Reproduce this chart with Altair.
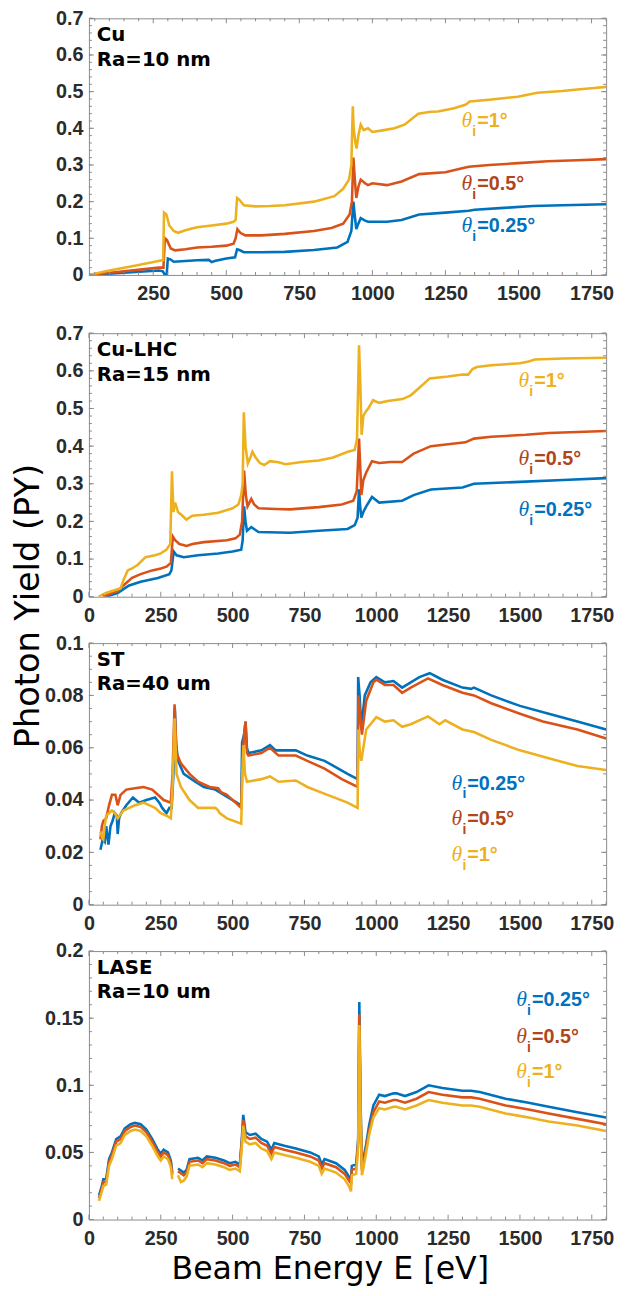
import altair as alt
import pandas as pd

SERIES = ["0.25°", "0.5°", "1°"]
LINE_COLORS = ["#0072BD", "#D95319", "#EDB120"]
LABEL_COLORS = ["#0072BD", "#B0461C", "#EDB120"]
LABEL_TEXT = ["=0.25°", "=0.5°", "=1°"]
FRAME = "#8a8a8a"

# ---------------- Panel 1: Cu, Ra=10 nm ----------------
CU_025 = [(30, 0), (150, 0.006), (270, 0.012), (283, 0.01), (290, 0.0), (296, 0.0), (300, 0.045), (310, 0.042),
          (320, 0.036), (360, 0.038), (400, 0.04), (440, 0.041), (450, 0.035), (460, 0.038), (500, 0.045),
          (530, 0.048), (537, 0.07), (545, 0.068), (560, 0.062), (620, 0.062), (700, 0.063), (800, 0.068),
          (880, 0.075), (915, 0.09), (928, 0.12), (935, 0.2), (940, 0.16), (945, 0.125), (952, 0.14),
          (960, 0.155), (975, 0.148), (985, 0.145), (1050, 0.145), (1100, 0.15), (1160, 0.165), (1250, 0.17),
          (1330, 0.175), (1350, 0.178), (1450, 0.183), (1550, 0.188), (1650, 0.19), (1800, 0.193)]
CU_05 = [(30, 0), (150, 0.01), (270, 0.02), (285, 0.02), (290, 0.10), (297, 0.095), (310, 0.072), (325, 0.067),
         (360, 0.07), (400, 0.075), (450, 0.077), (500, 0.08), (525, 0.085), (532, 0.1), (538, 0.125),
         (548, 0.115), (565, 0.108), (620, 0.108), (700, 0.112), (800, 0.12), (860, 0.128), (900, 0.14),
         (922, 0.165), (930, 0.2), (935, 0.32), (940, 0.26), (945, 0.21), (952, 0.24), (960, 0.26),
         (975, 0.25), (985, 0.245), (1000, 0.25), (1050, 0.245), (1100, 0.255), (1160, 0.275), (1250, 0.28),
         (1300, 0.29), (1330, 0.295), (1400, 0.30), (1500, 0.305), (1600, 0.31), (1700, 0.313), (1800, 0.316)]
CU_1 = [(30, 0.0), (100, 0.012), (200, 0.027), (280, 0.04), (284, 0.04), (287, 0.17), (295, 0.165), (305, 0.135),
        (320, 0.12), (335, 0.115), (360, 0.122), (400, 0.13), (450, 0.135), (500, 0.14), (525, 0.145),
        (532, 0.15), (537, 0.21), (545, 0.205), (560, 0.19), (600, 0.187), (650, 0.188), (700, 0.19),
        (800, 0.2), (870, 0.215), (900, 0.235), (920, 0.26), (928, 0.3), (933, 0.46), (936, 0.4),
        (942, 0.36), (946, 0.345), (952, 0.38), (960, 0.41), (970, 0.395), (985, 0.40), (1000, 0.39),
        (1040, 0.395), (1075, 0.40), (1110, 0.41), (1157, 0.44), (1200, 0.445), (1224, 0.446), (1280, 0.455),
        (1320, 0.465), (1333, 0.473), (1400, 0.478), (1497, 0.486), (1565, 0.497), (1650, 0.502),
        (1701, 0.506), (1760, 0.51), (1800, 0.513)]
CU_LABEL_E = 1305
CU_LABEL_V = [0.116, 0.232, 0.404]

# ---------------- Panel 2: Cu-LHC, Ra=15 nm ----------------
LHC_025 = [(60, 0), (80, 0.005), (100, 0.01), (120, 0.02), (140, 0.03), (180, 0.04), (240, 0.05), (280, 0.06),
           (287, 0.07), (295, 0.12), (305, 0.11), (330, 0.105), (380, 0.11), (450, 0.115), (500, 0.12),
           (530, 0.125), (535, 0.15), (540, 0.24), (545, 0.2), (550, 0.175), (565, 0.185), (590, 0.172),
           (700, 0.17), (800, 0.175), (900, 0.18), (925, 0.19), (935, 0.21), (940, 0.285), (944, 0.24),
           (948, 0.21), (955, 0.225), (965, 0.24), (985, 0.265), (1010, 0.25), (1090, 0.255), (1130, 0.27),
           (1190, 0.285), (1300, 0.29), (1340, 0.3), (1500, 0.305), (1650, 0.31), (1800, 0.315)]
LHC_05 = [(50, 0), (80, 0.01), (100, 0.015), (120, 0.03), (150, 0.05), (180, 0.06), (220, 0.07), (250, 0.075),
          (270, 0.08), (285, 0.09), (292, 0.16), (300, 0.15), (315, 0.14), (340, 0.135), (360, 0.14),
          (400, 0.145), (480, 0.15), (510, 0.155), (525, 0.165), (533, 0.2), (540, 0.335), (546, 0.27),
          (552, 0.24), (565, 0.26), (575, 0.245), (590, 0.235), (650, 0.233), (700, 0.232), (800, 0.238),
          (880, 0.245), (920, 0.255), (932, 0.28), (940, 0.42), (944, 0.35), (948, 0.27), (955, 0.31),
          (965, 0.33), (985, 0.36), (1010, 0.355), (1050, 0.358), (1090, 0.358), (1130, 0.38), (1190, 0.4),
          (1250, 0.405), (1310, 0.41), (1340, 0.42), (1400, 0.425), (1520, 0.43), (1600, 0.435), (1800, 0.44)]
LHC_1 = [(34, 0), (60, 0.01), (80, 0.015), (100, 0.02), (110, 0.022), (120, 0.044), (135, 0.07), (150, 0.075),
         (170, 0.085), (197, 0.105), (230, 0.11), (250, 0.115), (270, 0.125), (283, 0.14), (289, 0.333),
         (294, 0.225), (300, 0.25), (310, 0.225), (325, 0.215), (339, 0.205), (360, 0.215), (400, 0.218),
         (450, 0.223), (500, 0.235), (520, 0.245), (530, 0.27), (535, 0.3), (539, 0.49), (545, 0.4),
         (553, 0.354), (562, 0.37), (569, 0.385), (580, 0.37), (595, 0.355), (610, 0.35), (630, 0.36),
         (660, 0.357), (684, 0.352), (740, 0.358), (800, 0.362), (850, 0.37), (901, 0.385), (925, 0.39),
         (933, 0.42), (940, 0.668), (945, 0.55), (949, 0.43), (955, 0.48), (962, 0.49), (972, 0.5),
         (989, 0.522), (1010, 0.515), (1040, 0.52), (1091, 0.525), (1120, 0.535), (1150, 0.555),
         (1186, 0.58), (1250, 0.585), (1300, 0.59), (1320, 0.59), (1335, 0.605), (1350, 0.61), (1400, 0.615),
         (1500, 0.62), (1530, 0.625), (1552, 0.63), (1650, 0.633), (1800, 0.635)]
LHC_LABEL_E = 1495
LHC_LABEL_V = [0.214, 0.35, 0.558]

# ---------------- Panel 3: ST, Ra=40 um ----------------
ST_025 = [(40, 0.021), (48, 0.025), (55, 0.024), (60, 0.03), (68, 0.023), (75, 0.03), (82, 0.032), (90, 0.035),
          (97, 0.034), (100, 0.027), (105, 0.033), (112, 0.035), (130, 0.038), (153, 0.041), (175, 0.039),
          (200, 0.04), (230, 0.041), (245, 0.039), (255, 0.037), (270, 0.035), (280, 0.037), (288, 0.037),
          (294, 0.05), (299, 0.075), (303, 0.062), (310, 0.055), (330, 0.05), (370, 0.047), (400, 0.045),
          (440, 0.044), (470, 0.042), (500, 0.04), (530, 0.038), (533, 0.062), (540, 0.065), (545, 0.07),
          (550, 0.06), (555, 0.058), (600, 0.059), (630, 0.061), (650, 0.059), (720, 0.059), (760, 0.057),
          (820, 0.055), (900, 0.05), (935, 0.048), (937, 0.087), (942, 0.08), (948, 0.067), (955, 0.075),
          (960, 0.08), (980, 0.085), (1000, 0.087), (1030, 0.085), (1060, 0.0855), (1090, 0.083),
          (1120, 0.085), (1150, 0.087), (1186, 0.0885), (1230, 0.086), (1300, 0.083), (1330, 0.0825),
          (1340, 0.083), (1400, 0.08), (1500, 0.076), (1600, 0.073), (1700, 0.07), (1800, 0.067)]
ST_05 = [(40, 0.025), (45, 0.03), (50, 0.032), (60, 0.033), (70, 0.038), (80, 0.042), (92, 0.042), (100, 0.038),
         (110, 0.042), (130, 0.044), (160, 0.0445), (190, 0.045), (220, 0.044), (240, 0.042), (260, 0.04),
         (285, 0.039), (291, 0.05), (298, 0.0766), (305, 0.058), (320, 0.054), (350, 0.05), (380, 0.047),
         (420, 0.045), (450, 0.0445), (460, 0.043), (480, 0.042), (510, 0.039), (530, 0.037), (534, 0.053),
         (540, 0.065), (545, 0.07), (550, 0.058), (555, 0.057), (600, 0.058), (630, 0.06), (660, 0.057),
         (720, 0.057), (760, 0.055), (820, 0.052), (880, 0.048), (935, 0.045), (938, 0.08), (944, 0.072),
         (950, 0.065), (965, 0.078), (990, 0.085), (1000, 0.086), (1030, 0.084), (1060, 0.084), (1090, 0.081),
         (1120, 0.083), (1180, 0.0865), (1230, 0.084), (1300, 0.081), (1340, 0.08), (1400, 0.077),
         (1500, 0.073), (1580, 0.07), (1700, 0.067), (1800, 0.0635)]
ST_1 = [(40, 0.028), (45, 0.026), (50, 0.025), (55, 0.03), (60, 0.034), (80, 0.036), (90, 0.035), (100, 0.033),
        (120, 0.036), (160, 0.038), (190, 0.039), (230, 0.037), (250, 0.035), (270, 0.034), (285, 0.033),
        (291, 0.045), (298, 0.0713), (305, 0.05), (320, 0.045), (350, 0.04), (380, 0.037), (440, 0.037),
        (450, 0.036), (455, 0.035), (480, 0.033), (530, 0.031), (534, 0.05), (538, 0.061), (543, 0.05),
        (550, 0.047), (600, 0.048), (630, 0.049), (660, 0.047), (720, 0.0475), (760, 0.045), (830, 0.042),
        (900, 0.039), (935, 0.037), (938, 0.067), (943, 0.058), (948, 0.055), (955, 0.06), (965, 0.067),
        (1000, 0.0717), (1030, 0.07), (1060, 0.0705), (1090, 0.068), (1120, 0.069), (1180, 0.072),
        (1220, 0.069), (1240, 0.0705), (1300, 0.067), (1340, 0.066), (1400, 0.063), (1500, 0.059),
        (1600, 0.056), (1700, 0.053), (1800, 0.0515)]
ST_LABEL_E = 1262
ST_LABEL_V = [0.044, 0.0305, 0.0167]

# ---------------- Panel 4: LASE, Ra=10 um (None = gap in measurement) ----------------
LASE_025 = [(35, 0.018), (45, 0.025), (50, 0.03), (60, 0.03), (70, 0.045), (80, 0.05), (95, 0.06), (110, 0.062),
            (125, 0.068), (145, 0.071), (160, 0.072), (180, 0.071), (200, 0.067), (220, 0.06), (240, 0.052),
            (250, 0.049), (260, 0.052), (275, 0.05), (285, 0.044), (290, 0.035), (300, None), (310, 0.038),
            (330, 0.035), (340, 0.037), (350, 0.045), (380, 0.046), (395, 0.044), (410, 0.047), (440, 0.046),
            (470, 0.044), (490, 0.042), (510, 0.043), (525, 0.041), (532, 0.06), (537, 0.078), (545, 0.065),
            (560, 0.063), (580, 0.064), (600, 0.06), (620, 0.058), (635, 0.052), (645, 0.057), (680, 0.055),
            (720, 0.053), (770, 0.05), (800, 0.047), (810, 0.041), (820, 0.045), (860, 0.042), (890, 0.037),
            (905, 0.032), (912, 0.03), (915, 0.04), (930, 0.041), (937, 0.06), (941, 0.162), (945, 0.09),
            (950, 0.04), (955, 0.045), (964, 0.055), (975, 0.07), (990, 0.085), (1010, 0.093), (1030, 0.092),
            (1060, 0.094), (1070, 0.094), (1100, 0.092), (1140, 0.095), (1182, 0.1), (1230, 0.098),
            (1300, 0.096), (1330, 0.096), (1360, 0.095), (1450, 0.09), (1530, 0.087), (1600, 0.084),
            (1700, 0.08), (1800, 0.076)]
LASE_05 = [(35, 0.016), (45, 0.023), (50, 0.028), (60, 0.028), (70, 0.043), (80, 0.048), (95, 0.058), (110, 0.06),
           (125, 0.066), (145, 0.069), (160, 0.07), (180, 0.069), (200, 0.065), (220, 0.058), (240, 0.05),
           (250, 0.047), (260, 0.05), (275, 0.048), (285, 0.042), (290, 0.033), (300, None), (310, 0.036),
           (330, 0.033), (340, 0.035), (350, 0.043), (380, 0.044), (395, 0.042), (410, 0.045), (440, 0.044),
           (470, 0.042), (490, 0.04), (510, 0.041), (525, 0.039), (532, 0.057), (537, 0.074), (545, 0.062),
           (560, 0.06), (580, 0.061), (600, 0.057), (620, 0.055), (635, 0.049), (645, 0.054), (680, 0.052),
           (720, 0.05), (770, 0.047), (800, 0.044), (810, 0.038), (820, 0.042), (860, 0.039), (890, 0.034),
           (905, 0.029), (912, 0.027), (915, 0.037), (930, 0.038), (937, 0.057), (941, 0.153), (945, 0.085),
           (950, 0.037), (955, 0.042), (964, 0.052), (975, 0.066), (990, 0.08), (1010, 0.088), (1030, 0.087),
           (1060, 0.089), (1070, 0.089), (1100, 0.087), (1140, 0.09), (1182, 0.095), (1230, 0.093),
           (1300, 0.091), (1330, 0.091), (1360, 0.09), (1450, 0.085), (1530, 0.082), (1600, 0.079),
           (1700, 0.075), (1800, 0.071)]
LASE_1 = [(35, 0.014), (45, 0.021), (50, 0.025), (60, 0.026), (70, 0.04), (80, 0.045), (95, 0.055), (110, 0.057),
          (125, 0.063), (145, 0.066), (160, 0.067), (180, 0.066), (200, 0.062), (220, 0.055), (240, 0.047),
          (250, 0.044), (260, 0.047), (275, 0.045), (285, 0.039), (290, 0.03), (300, None), (310, 0.033),
          (320, 0.028), (330, 0.029), (340, 0.032), (350, 0.04), (380, 0.041), (395, 0.039), (410, 0.042),
          (440, 0.041), (470, 0.039), (490, 0.037), (510, 0.038), (525, 0.036), (532, 0.054), (537, 0.07),
          (545, 0.058), (560, 0.056), (580, 0.057), (600, 0.053), (620, 0.051), (635, 0.045), (645, 0.05),
          (680, 0.048), (720, 0.046), (770, 0.043), (800, 0.04), (810, 0.034), (820, 0.038), (860, 0.035),
          (890, 0.03), (905, 0.025), (912, 0.021), (915, 0.033), (930, 0.034), (937, 0.054), (941, 0.145),
          (945, 0.08), (950, 0.033), (955, 0.038), (964, 0.049), (975, 0.063), (990, 0.076), (1010, 0.083),
          (1030, 0.082), (1060, 0.084), (1070, 0.084), (1100, 0.082), (1140, 0.085), (1182, 0.089),
          (1230, 0.087), (1300, 0.085), (1330, 0.085), (1360, 0.084), (1450, 0.079), (1530, 0.076),
          (1600, 0.073), (1700, 0.07), (1800, 0.066)]
LASE_LABEL_E = 1487
LASE_LABEL_V = [0.1588, 0.1313, 0.1055]

PANEL_NAMES = ["Cu", "Cu-LHC", "ST", "LASE"]
PANEL_RA = ["Ra=10 nm", "Ra=15 nm", "Ra=40 um", "Ra=10 um"]
X_DOMAINS = [[30, 1800], [0, 1800], [0, 1800], [0, 1800]]
Y_MAX = [0.7, 0.7, 0.1, 0.2]
Y_MAJOR = [0.1, 0.1, 0.02, 0.05]
Y_MINOR = [0.02, 0.02, 0.005, 0.01]

W = 524
HEIGHTS = [260, 267, 265, 272]


def make_panel(idx, series_pts, lab_e, lab_v):
    H = HEIGHTS[idx]
    xdom = X_DOMAINS[idx]
    ymax = Y_MAX[idx]
    rows = []
    for s, pts in zip(SERIES, series_pts):
        seg = 0
        for e, v in pts:
            if v is None:
                seg += 1
                continue
            rows.append({"E": e, "PY": v, "series": s, "seg": seg})
    df = pd.DataFrame(rows)

    xmaj = [v for v in range(0, 1801, 250) if xdom[0] <= v <= xdom[1]]
    xmin = [v for v in range(0, 1801, 50) if xdom[0] <= v <= xdom[1] and v % 250 != 0]
    ymajv = [round(i * Y_MAJOR[idx], 4) for i in range(int(round(ymax / Y_MAJOR[idx])) + 1)]
    yminv = [round(i * Y_MINOR[idx], 4) for i in range(int(round(ymax / Y_MINOR[idx])) + 1)]

    if idx == 3:
        xaxis = alt.Axis(values=xmaj, format="d", title="Beam Energy E [eV]", titleFont="DejaVu Sans",
                         titleFontSize=32, titleFontWeight="normal", titleColor="#000000",
                         titleX=244, titleY=60, titleAlign="center", titleBaseline="alphabetic")
    else:
        xaxis = alt.Axis(values=xmaj, format="d", title=None)
    if idx == 1:
        yaxis = alt.Axis(values=ymajv, format="~g", title="Photon Yield (PY)", titleFont="DejaVu Sans",
                         titleFontSize=34, titleFontWeight="normal", titleColor="#000000",
                         titleX=-51, titleY=276, titleAngle=270, titleAlign="center",
                         titleBaseline="alphabetic")
    else:
        yaxis = alt.Axis(values=ymajv, format="~g", title=None)

    xscale = alt.Scale(domain=xdom, nice=False, zero=False)
    yscale = alt.Scale(domain=[0, ymax], nice=False, zero=False)
    X = alt.X("E:Q", scale=xscale, axis=xaxis)
    Y = alt.Y("PY:Q", scale=yscale, axis=yaxis)

    lines = alt.Chart(df).mark_line(strokeWidth=2.6, clip=True).encode(
        x=X, y=Y,
        color=alt.Color("series:N", scale=alt.Scale(domain=SERIES, range=LINE_COLORS), legend=None),
        detail="seg:N",
    )

    layers = [lines]
    # inward ticks on all four sides
    for vals, L in ((xmaj, 5), (xmin, 3)):
        base = alt.Chart(pd.DataFrame({"E": vals})).mark_rule(color=FRAME, strokeWidth=1)
        layers.append(base.encode(x=X, y=alt.value(H), y2=alt.value(H - L)))
        layers.append(base.encode(x=X, y=alt.value(0), y2=alt.value(L)))
    for vals, L in ((ymajv, 5), (yminv, 3)):
        base = alt.Chart(pd.DataFrame({"PY": vals})).mark_rule(color=FRAME, strokeWidth=1)
        layers.append(base.encode(y=Y, x=alt.value(0), x2=alt.value(L)))
        layers.append(base.encode(y=Y, x=alt.value(W), x2=alt.value(W - L)))

    name_df = pd.DataFrame({"name": [PANEL_NAMES[idx]], "ra": [PANEL_RA[idx]]})
    name_base = alt.Chart(name_df).mark_text(font="DejaVu Sans", fontWeight="bold", fontSize=20,
                                             align="left", baseline="alphabetic", color="#000000")
    layers.append(name_base.encode(x=alt.value(8), y=alt.value(23), text="name:N"))
    layers.append(name_base.encode(x=alt.value(8), y=alt.value(48), text="ra:N"))

    lab_df = pd.DataFrame({"series": SERIES, "E": [lab_e] * 3, "PY": lab_v,
                           "theta": ["θ"] * 3, "sub": ["i"] * 3, "rest": LABEL_TEXT})
    lab_color = alt.Color("series:N", scale=alt.Scale(domain=SERIES, range=LABEL_COLORS), legend=None)
    layers.append(alt.Chart(lab_df).mark_text(font="Liberation Serif", fontStyle="italic", fontSize=22,
                                              align="left", baseline="alphabetic").encode(
        x=X, y=Y, text="theta:N", color=lab_color))
    layers.append(alt.Chart(lab_df).mark_text(font="Liberation Sans", fontWeight="bold", fontSize=14,
                                              align="left", baseline="alphabetic", dx=11, dy=9).encode(
        x=X, y=Y, text="sub:N", color=lab_color))
    layers.append(alt.Chart(lab_df).mark_text(font="Liberation Sans", fontWeight="bold", fontSize=20,
                                              align="left", baseline="alphabetic", dx=16).encode(
        x=X, y=Y, text="rest:N", color=lab_color))

    return alt.layer(*layers).resolve_scale(color="independent").properties(width=W, height=H)


p1 = make_panel(0, [CU_025, CU_05, CU_1], CU_LABEL_E, CU_LABEL_V)
p2 = make_panel(1, [LHC_025, LHC_05, LHC_1], LHC_LABEL_E, LHC_LABEL_V)
p3 = make_panel(2, [ST_025, ST_05, ST_1], ST_LABEL_E, ST_LABEL_V)
p4 = make_panel(3, [LASE_025, LASE_05, LASE_1], LASE_LABEL_E, LASE_LABEL_V)

inner = alt.vconcat(p2, p3, p4, spacing=47, bounds="flush")
chart = alt.vconcat(p1, inner, spacing=59, bounds="flush").properties(
    padding={"left": 3, "top": -9, "right": 2, "bottom": 2}
).configure_view(
    stroke=FRAME, strokeWidth=1
).configure_axis(
    domain=False, ticks=False, tickSize=0, grid=False,
    labelFont="Liberation Sans", labelFontWeight="bold", labelFontSize=20, labelColor="#2b2b2b",
    labelPadding=6, labelFlush=False, labelOverlap=False
).configure_axisX(labelPadding=9)

chart.save("out.html", embed_options={"renderer": "svg", "actions": False})
